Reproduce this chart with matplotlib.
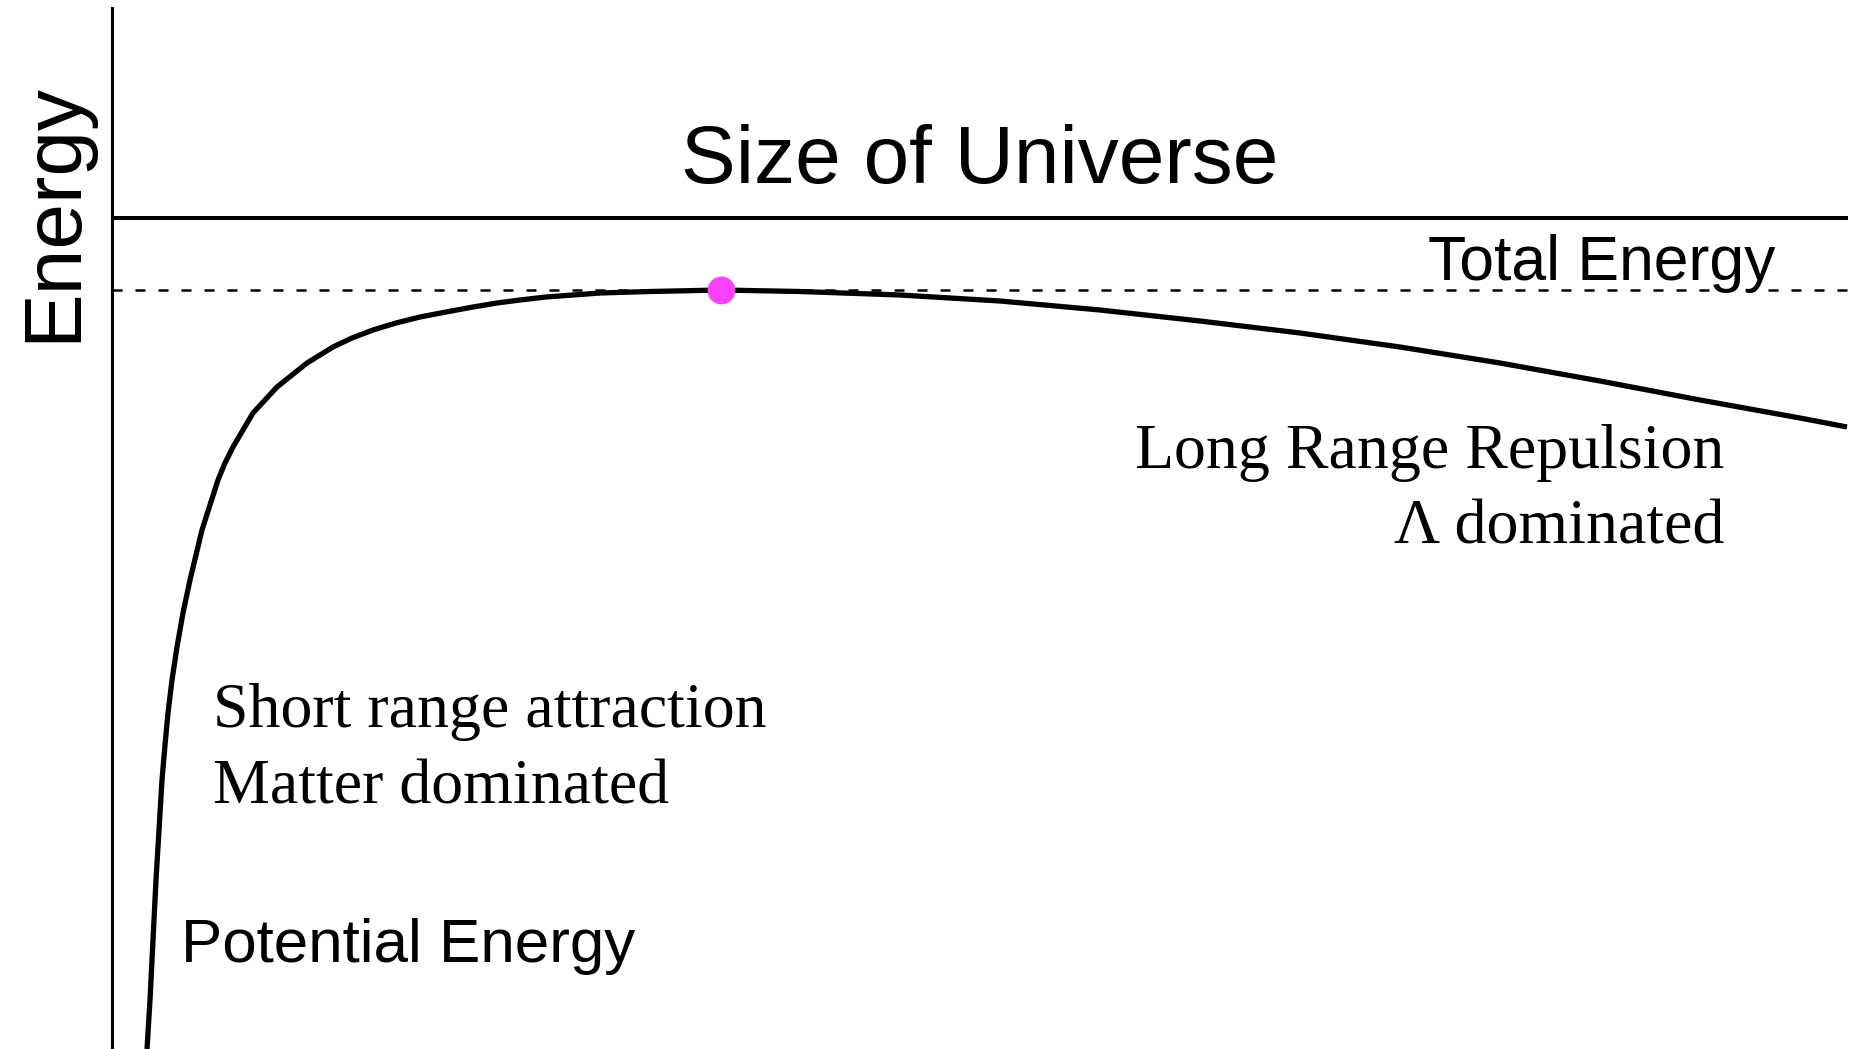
import numpy as np
import matplotlib
matplotlib.use('Agg')
import matplotlib.pyplot as plt

# size of universe (arbitrary units) vs potential energy
size = [0.35, 0.38, 0.40, 0.42, 0.44, 0.47, 0.50, 0.53, 0.56, 0.60, 0.65,
        0.71, 0.78, 0.84, 0.90, 0.98, 1.06, 1.13, 1.21, 1.31, 1.41, 1.53,
        1.65, 1.80, 1.95, 2.08, 2.21, 2.40, 2.61, 2.84, 3.08, 3.34, 3.61,
        3.85, 4.08, 4.34, 4.61, 4.88, 5.38, 6.09, 6.88, 7.88, 8.88, 9.88,
        10.88, 11.88, 12.88, 13.88, 14.88, 15.88, 16.88, 17.35]
potential = [-8.31, -7.82, -7.42, -7.02, -6.62, -6.12, -5.62, -5.27, -4.95,
             -4.62, -4.29, -3.95, -3.62, -3.37, -3.12, -2.87, -2.62, -2.45,
             -2.29, -2.12, -1.95, -1.82, -1.69, -1.57, -1.45, -1.37, -1.29,
             -1.20, -1.12, -1.05, -0.99, -0.94, -0.89, -0.85, -0.82, -0.79,
             -0.77, -0.75, -0.735, -0.72, -0.735, -0.77, -0.83, -0.92, -1.03,
             -1.15, -1.29, -1.45, -1.63, -1.82, -2.00, -2.09]
total_energy = -0.72
turn_point = (6.09, -0.72)

W, H = 1857, 1049
fig = plt.figure(figsize=(W / 100, H / 100), dpi=100)
fig.patch.set_facecolor('white')

def px(x, y):
    return x / W, 1 - y / H

ax = fig.add_axes([112 / W, 0, (1848 - 112) / W, 1 - 8 / H])
ax.set_xlim(0, 17.36)
ax.set_ylim(-8.31, 2.10)
for s in ['top', 'right', 'bottom']:
    ax.spines[s].set_visible(False)
ax.spines['left'].set_linewidth(2.2)
ax.set_xticks([])
ax.set_yticks([])
ax.patch.set_alpha(0)

ax.axhline(0, color='black', linewidth=2.9)
ax.axhline(total_energy, color='black', linewidth=1.8, dashes=(4, 5.2))
ax.plot(size, potential, color='black', linewidth=3.8, solid_joinstyle='round',
        solid_capstyle='butt')
ax.plot([turn_point[0]], [turn_point[1]], 'o', color='#ff40ff', markersize=20,
        markeredgewidth=0, zorder=5)

sans = 'Liberation Sans'
serif = 'Liberation Serif'

fig.text(*px(75, 342), 'Energy', rotation=90, rotation_mode='anchor',
         ha='left', va='baseline', fontsize=59, family=sans)
fig.text(*px(980, 183), 'Size of Universe', ha='center', va='baseline',
         fontsize=59, family=sans)
fig.text(*px(1776, 280), 'Total Energy', ha='right', va='baseline',
         fontsize=45, family=sans)
fig.text(*px(181, 962), 'Potential Energy', ha='left', va='baseline',
         fontsize=44.6, family=sans)

fig.text(*px(1724, 468), 'Long Range Repulsion', ha='right', va='baseline',
         fontsize=46, family=serif)
fig.text(*px(1724, 544), '\u039b dominated', ha='right', va='baseline',
         fontsize=46, family=serif)
fig.text(*px(213, 727), 'Short range attraction', ha='left', va='baseline',
         fontsize=46, family=serif)
fig.text(*px(213, 804), 'Matter dominated', ha='left', va='baseline',
         fontsize=46, family=serif)

plt.savefig('out.png', dpi=100)
